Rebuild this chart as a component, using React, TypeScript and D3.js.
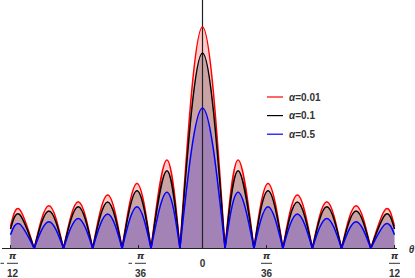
import React from "react";
import * as d3 from "d3";

// angles in degrees (π/36 = 5°, π/12 = 15°)
const zeroDeg = [1.76, 4.02, 6.28, 8.58, 10.86, 13.15];
const peakDeg = [2.78, 5.12, 7.41, 9.71, 12.0, 14.3];
const edgeDeg = 15;

const alphaLabels = ["0.01", "0.1", "0.5"];
const seriesColors = ["#ff0000", "#000000", "#0000ff"];
const mainPeak = [1.0, 0.883, 0.634];
const redSide = [0.4, 0.294, 0.241, 0.211, 0.193, 0.177];
const blackSide = [0.351, 0.261, 0.21, 0.189, 0.169, 0.154];
const blueSide = [0.254, 0.189, 0.156, 0.136, 0.121, 0.111];
const edgeVal = [0.1, 0.088, 0.062];
const sideLobes = [redSide, blackSide, blueSide];

const tickDeg = [-15, -5, 0, 5, 15];
const tickDen = ["12", "36", "", "36", "12"];

const W = 415;
const H = 278;

export default function App() {
  const x = d3.scaleLinear().domain([-edgeDeg, edgeDeg]).range([10.5, 394.5]);
  const y = d3.scaleLinear().domain([0, 1.122]).range([248.5, 0]);
  const y0 = y(0);

  const segmentsFor = (s: number) => {
    const segs: [number, number][][] = [];
    segs.push([
      [-zeroDeg[0], 0],
      [0, mainPeak[s]],
      [zeroDeg[0], 0],
    ]);
    const side = sideLobes[s];
    for (const sign of [1, -1]) {
      for (let i = 0; i < peakDeg.length; i++) {
        const a = zeroDeg[i];
        const endX = i + 1 < zeroDeg.length ? zeroDeg[i + 1] : edgeDeg;
        const endY = i + 1 < zeroDeg.length ? 0 : edgeVal[s];
        segs.push([
          [sign * a, 0],
          [sign * peakDeg[i], side[i]],
          [sign * endX, endY],
        ]);
      }
    }
    return segs.map((seg) => seg.slice().sort((p, q) => p[0] - q[0]));
  };

  const line = d3
    .line<[number, number]>()
    .x((d) => x(d[0]))
    .y((d) => y(d[1]))
    .curve(d3.curveNatural);
  const area = d3
    .area<[number, number]>()
    .x((d) => x(d[0]))
    .y0(y0)
    .y1((d) => y(d[1]))
    .curve(d3.curveNatural);

  const all = [0, 1, 2].map((s) => segmentsFor(s));

  const font = "'Liberation Sans', Arial, sans-serif";

  return (
    <svg
      width={W}
      height={H}
      style={{ position: "absolute", left: 0, top: 0, background: "#fff" }}
      fontFamily={font}
    >
      {all.map((segs, s) => (
        <path
          key={"a" + s}
          d={segs.map((seg) => area(seg)).join("")}
          fill={seriesColors[s]}
          fillOpacity={0.2}
          stroke="none"
        />
      ))}
      {/* axes */}
      <line x1={2} x2={397} y1={y0} y2={y0} stroke="#222" strokeWidth={1.2} />
      <line x1={x(0)} x2={x(0)} y1={0} y2={y0} stroke="#222" strokeWidth={1.2} />
      {tickDeg.map((t, i) => (
        <line key={"t" + i} x1={x(t)} x2={x(t)} y1={y0} y2={y0 - 3.5} stroke="#222" strokeWidth={1} />
      ))}
      {all.map((segs, s) => (
        <path
          key={"l" + s}
          d={segs.map((seg) => line(seg)).join("")}
          fill="none"
          stroke={seriesColors[s]}
          strokeWidth={1.5}
        />
      ))}
      {/* tick labels */}
      {tickDeg.map((t, i) => {
        const tx = x(t);
        if (tickDen[i] === "") {
          return (
            <text key={"tl" + i} x={tx} y={266.5} textAnchor="middle" fontSize={10} fontWeight="bold" fill="#333">
              0
            </text>
          );
        }
        const neg = t < 0;
        const fc = neg ? tx + 2 : tx;
        return (
          <g key={"tl" + i} fill="#333" fontSize={10} fontWeight="bold">
            {neg && <line x1={fc - 12} x2={fc - 8.5} y1={263.3} y2={263.3} stroke="#333" strokeWidth={1} />}
            <text x={fc} y={258.5} textAnchor="middle" fontStyle="italic" fontFamily="'DejaVu Sans', sans-serif" fontSize={9.5}>
              π
            </text>
            <line x1={fc - 5.5} x2={fc + 5.5} y1={263.3} y2={263.3} stroke="#333" strokeWidth={1} />
            <text x={fc} y={277} textAnchor="middle">
              {tickDen[i]}
            </text>
          </g>
        );
      })}
      <text x={411.5} y={252.5} textAnchor="middle" fontSize={10} fontStyle="italic" fontWeight="bold" fill="#333">
        θ
      </text>
      {/* legend */}
      {alphaLabels.map((lab, i) => {
        const ly = 97 + i * 18.6;
        return (
          <g key={"lg" + i}>
            <line x1={267} x2={283} y1={ly} y2={ly} stroke={seriesColors[i]} strokeWidth={1.2} />
            <text x={289} y={ly + 3.5} fontSize={10} fontWeight="bold" fill="#333">
              <tspan fontStyle="italic">α</tspan>=
              {lab}
            </text>
          </g>
        );
      })}
    </svg>
  );
}
